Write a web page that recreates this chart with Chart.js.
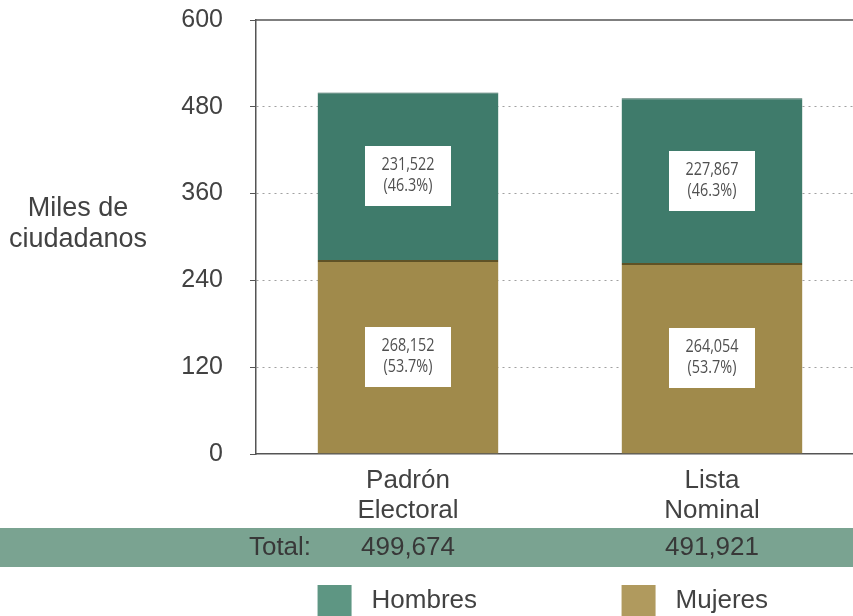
<!DOCTYPE html>
<html>
<head>
<meta charset="utf-8">
<script src="https://cdn.jsdelivr.net/npm/chart.js@4/dist/chart.umd.min.js"></script>
<style>
  html, body { margin: 0; padding: 0; background: #fff; overflow: hidden; }
  #wrap { position: absolute; left: 0; top: 0; width: 870px; height: 616px; }
</style>
</head>
<body>
<div id="wrap"><canvas id="c" width="870" height="616"></canvas></div>
<script>
// Data (thousands of citizens)
const categories = [["Padrón", "Electoral"], ["Lista", "Nominal"]];
const hombres = [231.522, 227.867];
const mujeres = [268.152, 264.054];
const seriesNames = ["Hombres", "Mujeres"];
const yTicks = [0, 120, 240, 360, 480, 600];
const yTitle = ["Miles de", "ciudadanos"];
const totalLabel = "Total:";

const colHombres = "#3f7b6b";
const colMujeres = "#a08a4b";
const legendHombres = "#5e9683";
const legendMujeres = "#b09a5e";
const bandColor = "#7aa391";
const textColor = "#424242";
const FONT = "'Liberation Sans', Arial, sans-serif";

function fmt(n) {
  return Math.round(n * 1000).toString().replace(/\B(?=(\d{3})+(?!\d))/g, ",");
}

const totals = hombres.map((h, i) => h + mujeres[i]);

const decorPlugin = {
  id: "decor",
  beforeDatasetsDraw(chart) {
    const { ctx, chartArea, scales } = chart;
    const y600 = scales.y.getPixelForValue(600);
    ctx.save();
    ctx.strokeStyle = "#555";
    ctx.lineWidth = 1.5;
    ctx.beginPath();
    ctx.moveTo(chartArea.left, y600);
    ctx.lineTo(chart.width, y600);
    ctx.stroke();
    ctx.restore();
  },
  afterDatasetsDraw(chart) {
    const { ctx } = chart;
    ctx.save();
    chart.data.datasets.forEach((ds, di) => {
      const meta = chart.getDatasetMeta(di);
      meta.data.forEach((bar, i) => {
        const cx = bar.x;
        const cy = (bar.y + bar.base) / 2;
        const w = 86, h = 60;
        ctx.fillStyle = "#ffffff";
        ctx.fillRect(Math.round(cx - w / 2), Math.round(cy - h / 2), w, h);
        ctx.fillStyle = "#505050";
        ctx.font = "18px 'Open Sans', sans-serif";
        ctx.textAlign = "center";
        ctx.textBaseline = "middle";
        const v = ds.data[i];
        const pct = (v / totals[i] * 100).toFixed(1);
        ctx.save();
        ctx.translate(cx, cy);
        ctx.scale(0.8, 1);
        ctx.fillText(fmt(v), 0, -11);
        ctx.fillText("(" + pct + "%)", 0, 10);
        ctx.restore();
      });
    });
    ctx.restore();
  },
  afterDraw(chart) {
    const { ctx, scales } = chart;
    ctx.save();
    // y-axis title
    ctx.fillStyle = textColor;
    ctx.font = "27px " + FONT;
    ctx.textAlign = "center";
    ctx.textBaseline = "middle";
    ctx.fillText(yTitle[0], 78, 209);
    ctx.fillText(yTitle[1], 78, 240);

    // Total band
    ctx.fillStyle = bandColor;
    ctx.fillRect(0, 528, chart.width, 39);
    ctx.fillStyle = "#383838";
    ctx.font = "26px " + FONT;
    ctx.textAlign = "center";
    ctx.fillText(totalLabel, 280, 548);
    totals.forEach((t, i) => {
      ctx.fillText(fmt(t), scales.x.getPixelForValue(i), 548);
    });

    // Legend
    const m0 = chart.getDatasetMeta(0);
    const colors = [legendHombres, legendMujeres];
    const names = [seriesNames[0], seriesNames[1]];
    m0.data.forEach((bar, i) => {
      const left = bar.x - bar.width / 2;
      ctx.fillStyle = colors[i];
      ctx.fillRect(left, 585, 34, 32);
      ctx.fillStyle = textColor;
      ctx.textAlign = "left";
      ctx.fillText(names[i], left + 54, 601);
    });
    ctx.restore();
  }
};

new Chart(document.getElementById("c"), {
  type: "bar",
  data: {
    labels: categories,
    datasets: [
      { label: seriesNames[1], data: mujeres, backgroundColor: colMujeres,
        borderColor: "#5f5226", borderWidth: { top: 2, left: 0, right: 0, bottom: 0 }, borderSkipped: "bottom" },
      { label: seriesNames[0], data: hombres, backgroundColor: colHombres,
        borderColor: "#2f5e51", borderWidth: { top: 1, left: 0, right: 0, bottom: 0 }, borderSkipped: "bottom" }
    ]
  },
  options: {
    responsive: false,
    animation: false,
    layout: { padding: { top: 20, right: 6, left: 0, bottom: 0 } },
    plugins: { legend: { display: false }, tooltip: { enabled: false } },
    datasets: { bar: { categoryPercentage: 1, barPercentage: 0.595 } },
    scales: {
      x: {
        stacked: true,
        grid: { display: false, drawTicks: false },
        border: { display: true, color: "#555", width: 1.5 },
        ticks: { color: textColor, font: { family: FONT, size: 26, lineHeight: 1.15 }, padding: 12, maxRotation: 0 },
        afterFit(s) { s.height = 162; s.paddingLeft = 0; s.paddingRight = 0; }
      },
      y: {
        stacked: true,
        min: 0, max: 600,
        afterBuildTicks(s) { s.ticks = yTicks.map(v => ({ value: v })); },
        grid: {
          color: (c) => (c.tick && (c.tick.value === 0 || c.tick.value === 600)) ? "rgba(0,0,0,0)" : "#a0a0a0",
          lineWidth: 1,
          tickColor: "#555",
          tickLength: 6,
          drawTicks: true
        },
        border: { display: true, color: "#555", width: 1.5, dash: [2, 4] },
        ticks: { color: textColor, font: { family: FONT, size: 25 }, padding: 27 },
        afterFit(s) { s.width = 256; s.paddingTop = 0; s.paddingBottom = 0; }
      }
    }
  },
  plugins: [decorPlugin]
});
</script>
</body>
</html>
